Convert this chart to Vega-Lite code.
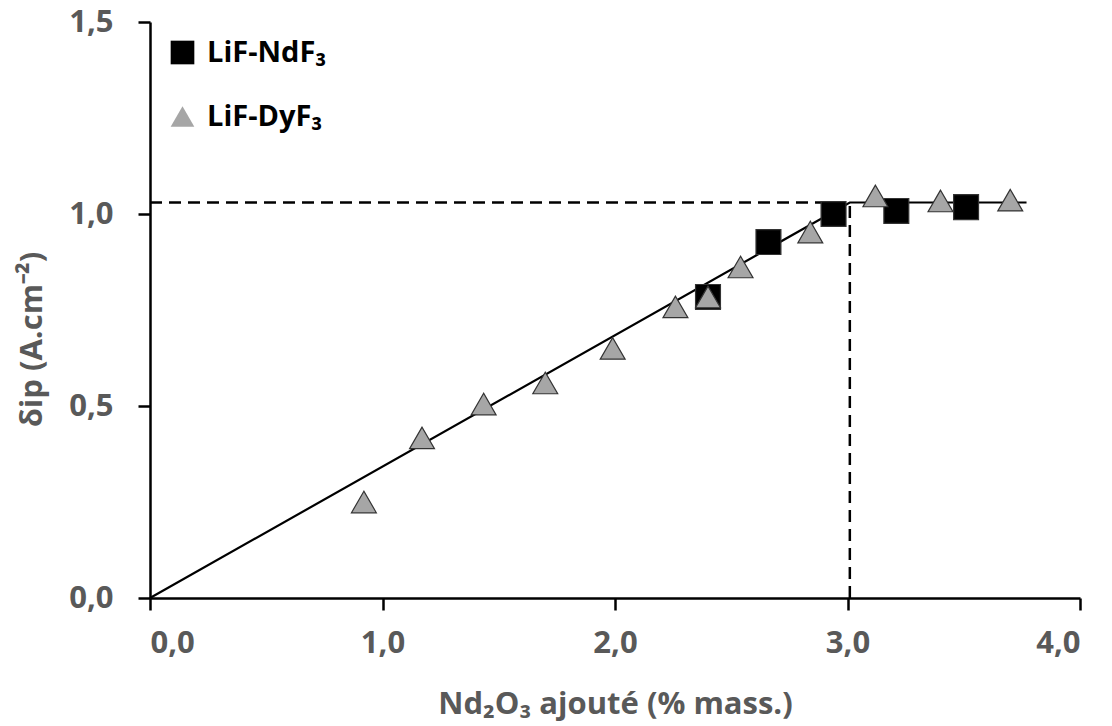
{
  "$schema": "https://vega.github.io/schema/vega-lite/v6.json",
  "width": 930,
  "height": 576,
  "autosize": "none",
  "padding": {"left": 150, "top": 22, "right": 32, "bottom": 128},
  "background": "white",
  "config": {
    "view": {"stroke": null},
    "font": "Open Sans",
    "axis": {
      "domainColor": "black",
      "domainWidth": 2.5,
      "tickColor": "black",
      "tickWidth": 2.5,
      "tickSize": 12,
      "grid": false,
      "labelFont": "Open Sans",
      "labelFontSize": 31,
      "labelFontWeight": "bold",
      "labelColor": "#595959",
      "titleFont": "Open Sans",
      "titleFontSize": 31,
      "titleFontWeight": "bold",
      "titleColor": "#595959"
    }
  },
  "datasets": {
    "points": [
      {"serie": "LiF-NdF₃", "x": 2.40, "y": 0.784},
      {"serie": "LiF-NdF₃", "x": 2.66, "y": 0.927},
      {"serie": "LiF-NdF₃", "x": 2.94, "y": 1.0},
      {"serie": "LiF-NdF₃", "x": 3.21, "y": 1.008},
      {"serie": "LiF-NdF₃", "x": 3.51, "y": 1.018},
      {"serie": "LiF-DyF₃", "x": 0.92, "y": 0.25},
      {"serie": "LiF-DyF₃", "x": 1.17, "y": 0.417},
      {"serie": "LiF-DyF₃", "x": 1.435, "y": 0.505},
      {"serie": "LiF-DyF₃", "x": 1.70, "y": 0.56},
      {"serie": "LiF-DyF₃", "x": 1.99, "y": 0.65},
      {"serie": "LiF-DyF₃", "x": 2.26, "y": 0.758},
      {"serie": "LiF-DyF₃", "x": 2.40, "y": 0.784},
      {"serie": "LiF-DyF₃", "x": 2.54, "y": 0.862},
      {"serie": "LiF-DyF₃", "x": 2.84, "y": 0.953},
      {"serie": "LiF-DyF₃", "x": 3.12, "y": 1.047},
      {"serie": "LiF-DyF₃", "x": 3.40, "y": 1.034},
      {"serie": "LiF-DyF₃", "x": 3.70, "y": 1.036}
    ],
    "fit": [
      {"x": 0, "y": 0},
      {"x": 3.01, "y": 1.03},
      {"x": 3.77, "y": 1.03}
    ],
    "guides": [
      {"x": 0, "x2": 3.01, "y": 1.03, "y2": 1.03},
      {"x": 3.01, "x2": 3.01, "y": 0, "y2": 1.03}
    ]
  },
  "layer": [
    {
      "data": {"name": "guides"},
      "mark": {"type": "rule", "color": "black", "strokeWidth": 2.5, "strokeDash": [12, 7]},
      "encoding": {
        "x": {
          "field": "x", "type": "quantitative",
          "scale": {"domain": [0, 4], "nice": false, "zero": false},
          "axis": {
            "values": [0, 1, 2, 3, 4],
            "labelExpr": "replace(format(datum.value, '.1f'), '.', ',')",
            "labelPadding": 18,
            "title": "Nd₂O₃ ajouté (% mass.)",
            "titleY": 106,
            "titleBaseline": "middle"
          }
        },
        "x2": {"field": "x2"},
        "y": {
          "field": "y", "type": "quantitative",
          "scale": {"domain": [0, 1.5], "nice": false, "zero": false},
          "axis": {
            "values": [0, 0.5, 1, 1.5],
            "labelExpr": "replace(format(datum.value, '.1f'), '.', ',')",
            "labelPadding": 25,
            "title": "δip (A.cm⁻²)",
            "titleX": -118,
            "titleY": 317,
            "titleAngle": -90,
            "titleAlign": "center",
            "titleBaseline": "middle"
          }
        },
        "y2": {"field": "y2"}
      }
    },
    {
      "data": {"name": "fit"},
      "mark": {"type": "line", "color": "black", "strokeWidth": 2.2},
      "encoding": {
        "x": {"field": "x", "type": "quantitative"},
        "y": {"field": "y", "type": "quantitative"}
      }
    },
    {
      "data": {"name": "points"},
      "mark": {"type": "point", "filled": true, "size": 620, "stroke": "#333333", "strokeWidth": 1.2, "opacity": 1},
      "encoding": {
        "x": {"field": "x", "type": "quantitative"},
        "y": {"field": "y", "type": "quantitative"},
        "shape": {
          "field": "serie", "type": "nominal",
          "scale": {"domain": ["LiF-NdF₃", "LiF-DyF₃"], "range": ["square", "triangle-up"]},
          "legend": {
            "title": null,
            "orient": "none",
            "legendX": 18,
            "legendY": 16,
            "padding": 0,
            "symbolSize": 560,
            "symbolStrokeColor": "#333333",
            "symbolStrokeWidth": 1.2,
            "labelFont": "Open Sans",
            "labelFontSize": 29,
            "labelFontWeight": "bold",
            "labelColor": "black",
            "labelOffset": 10,
            "rowPadding": 34
          }
        },
        "fill": {
          "field": "serie", "type": "nominal",
          "scale": {"domain": ["LiF-NdF₃", "LiF-DyF₃"], "range": ["black", "#a6a6a6"]},
          "legend": {
            "title": null,
            "orient": "none",
            "legendX": 18,
            "legendY": 16,
            "padding": 0,
            "symbolSize": 560,
            "symbolStrokeColor": "#333333",
            "symbolStrokeWidth": 1.2,
            "labelFont": "Open Sans",
            "labelFontSize": 29,
            "labelFontWeight": "bold",
            "labelColor": "black",
            "labelOffset": 10,
            "rowPadding": 34
          }
        }
      }
    }
  ]
}
